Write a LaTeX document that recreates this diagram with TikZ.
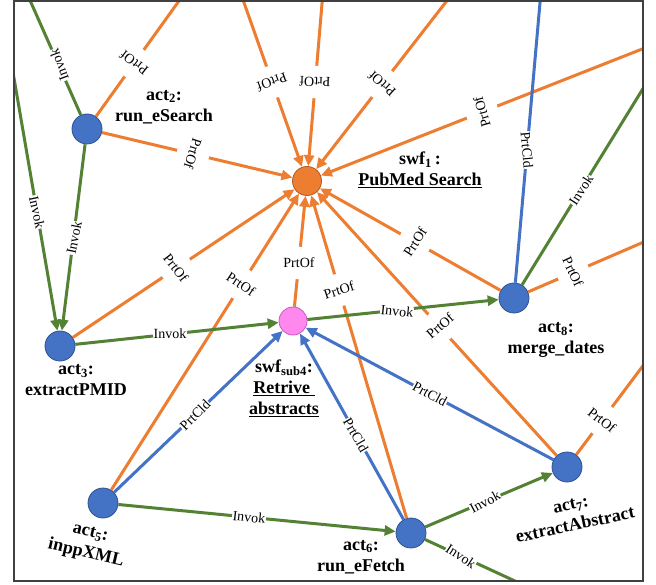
\documentclass[tikz,border=0pt]{standalone}
\usepackage{fontspec}
\setmainfont{Liberation Serif}
\usetikzlibrary{arrows.meta}

\definecolor{cPrtOf}{RGB}{237,125,49}
\definecolor{cInvok}{RGB}{84,130,53}
\definecolor{cPrtCld}{RGB}{68,114,196}
\definecolor{cActLine}{RGB}{47,82,143}
\definecolor{cSwfLine}{RGB}{174,90,33}
\definecolor{cSubFill}{RGB}{255,136,238}
\definecolor{cSubLine}{RGB}{200,90,190}
\definecolor{cFrame}{RGB}{64,64,64}

\tikzset{
  act/.style={circle,fill=cPrtCld,draw=cActLine,line width=0.8pt,minimum size=30pt,inner sep=0pt},
  swf/.style={circle,fill=cPrtOf,draw=cSwfLine,line width=0.8pt,minimum size=29pt,inner sep=0pt},
  subswf/.style={circle,fill=cSubFill,draw=cSubLine,line width=0.8pt,minimum size=28pt,inner sep=0pt},
  prtof/.style={draw=cPrtOf,line width=3pt},
  invok/.style={draw=cInvok,line width=3pt},
  prtcld/.style={draw=cPrtCld,line width=3pt},
  elab/.style={circle,fill=white,inner sep=0pt,font=\fontsize{14}{14}\selectfont},
  nlab/.style={align=center,inner sep=0pt,font=\fontsize{18}{21}\selectfont\bfseries},
}

\begin{document}
\begin{tikzpicture}[x=1pt,y=1pt,yscale=-1,>={Triangle[length=11pt,width=10pt]}]
\path[use as bounding box,fill=white] (0,0) rectangle (656,585);

% workflow and activity nodes
\node[swf] (swf1) at (307,181) {};
\node[subswf] (sub4) at (293,321) {};
\node[act] (act2) at (87,129) {};
\node[act] (act3) at (60,346) {};
\node[act] (act5) at (103,503) {};
\node[act] (act6) at (411,533) {};
\node[act] (act7) at (567,467) {};
\node[act] (act8) at (514,298) {};

% loose ends, outside the frame
\coordinate (up-inv2) at (21,-20);
\coordinate (up-prt2) at (194,-20);
\coordinate (up-prt-a) at (236,-20);
\coordinate (up-prt-b) at (324,-20);
\coordinate (up-prt-c) at (463,-20);
\coordinate (rt-prt) at (660,42);
\coordinate (up-cld8) at (542,-20);
\coordinate (rt-inv8) at (660,61);
\coordinate (rt-prt8) at (660,235);
\coordinate (rt-prt7) at (660,343);
\coordinate (dn-inv6) at (556,600);
\coordinate (lt-inv3) at (4,20);

\begin{scope}
\clip (14,1) rectangle (643,581);
% PrtOf
\draw[prtof,->] (act2) -- (swf1);
\draw[prtof,->] (up-prt-a) -- (swf1);
\draw[prtof,->] (up-prt-b) -- (swf1);
\draw[prtof,->] (up-prt-c) -- (swf1);
\draw[prtof,->] (rt-prt) -- (swf1);
\draw[prtof,->] (act3) -- (swf1);
\draw[prtof,->] (act5) -- (swf1);
\draw[prtof,->] (sub4) -- (swf1);
\draw[prtof,->] (act6) -- (swf1);
\draw[prtof,->] (act7) -- (swf1);
\draw[prtof,->] (act8) -- (swf1);
\draw[prtof] (act2) -- (up-prt2);
\draw[prtof] (act8) -- (rt-prt8);
\draw[prtof] (act7) -- (rt-prt7);
% Invok
\draw[invok] (act2) -- (up-inv2);
\draw[invok,->] (act2) -- (act3);
\draw[invok,->] (lt-inv3) -- (act3);
\draw[invok,->] (act3) -- (sub4);
\draw[invok,->] (sub4) -- (act8);
\draw[invok] (act8) -- (rt-inv8);
\draw[invok,->] (act5) -- (act6);
\draw[invok,->] (act6) -- (act7);
\draw[invok] (act6) -- (dn-inv6);
% PrtCld
\draw[prtcld] (act8) -- (up-cld8);
\draw[prtcld,->] (act5) -- (sub4);
\draw[prtcld,->] (act6) -- (sub4);
\draw[prtcld,->] (act7) -- (sub4);

% edge labels
\node[elab,rotate=110] (l-inv2) at (59,65) {Invok};
\node[elab,rotate=142] (l-prt2) at (134,63) {PrtOf};
\node[elab,rotate=-160] (l-prta) at (272,82) {PrtOf};
\node[elab,rotate=178] (l-prtb) at (315,82) {PrtOf};
\node[elab,rotate=138] (l-prtc) at (382,84) {PrtOf};
\node[elab,rotate=106] (l-prtr) at (482,112) {PrtOf};
\node[elab,rotate=-85] (l-cld8) at (527,150) {PrtCld};
\node[elab,rotate=57] (l-inv8) at (581,190) {Invok};
\node[elab,rotate=-65] (l-prt8) at (573,272) {PrtOf};
\node[elab,rotate=-38] (l-prt7) at (602,420) {PrtOf};
\node[elab,rotate=-33] (l-inv6) at (461,556) {Invok};
\node[elab,rotate=-78] (l-inv3) at (37,212) {Invok};
\node[elab,rotate=-108] (l-a2s) at (193,154) {PrtOf};
\node[elab,rotate=-52] (l-a3s) at (176,268) {PrtOf};
\node[elab,rotate=-33] (l-a5s) at (241,284) {PrtOf};
\node[elab] (l-ws) at (299,263) {PrtOf};
\node[elab,rotate=18] (l-a6s) at (339,290) {PrtOf};
\node[elab,rotate=41] (l-a7s) at (440,326) {PrtOf};
\node[elab,rotate=57] (l-a8s) at (415,242) {PrtOf};
\node[elab,rotate=78] (l-a2a3) at (74,238) {Invok};
\node[elab] (l-a3w) at (170,334) {Invok};
\node[elab,rotate=-6] (l-wa8) at (397,311) {Invok};
\node[elab,rotate=-6] (l-a5a6) at (249,517) {Invok};
\node[elab,rotate=28] (l-a6a7) at (485,502) {Invok};
\node[elab,rotate=45] (l-a5w) at (195,415) {PrtCld};
\node[elab,rotate=-60] (l-a6w) at (356,435) {PrtCld};
\node[elab,rotate=-28] (l-a7w) at (430,394) {PrtCld};
\end{scope}

% frame
\draw[cFrame,line width=1.4pt] (14,1) rectangle (643,581);

% node names
\node[nlab] (t-swf1) at (420,170) {swf\textsubscript{1}\,:\\\underline{PubMed Search}};
\node[nlab] (t-act2) at (164,107) {act\textsubscript{2}:\\run\_eSearch};
\node[nlab] (t-act3) at (76,380) {act\textsubscript{3}:\\extractPMID};
\node[nlab] (t-sub4) at (284,388) {swf\textsubscript{sub4}:\\\underline{Retrive~}\\\underline{abstracts}};
\node[nlab] (t-act8) at (556,340) {act\textsubscript{8}:\\merge\_dates};
\node[nlab,rotate=-13] (t-act5) at (88,544) {act\textsubscript{5}:\\inppXML};
\node[nlab] (t-act6) at (361,557) {act\textsubscript{6}:\\run\_eFetch};
\node[nlab,rotate=12] (t-act7) at (573,515) {act\textsubscript{7}:\\extractAbstract};

\end{tikzpicture}
\end{document}
